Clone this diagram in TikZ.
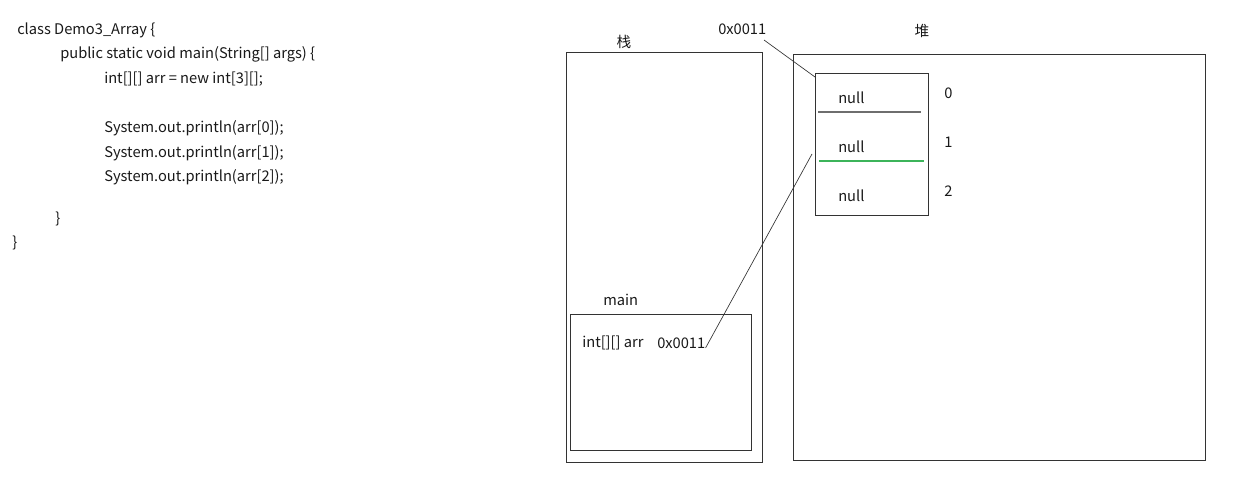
\documentclass[tikz,border=0pt]{standalone}
\usepackage{fontspec}
\setmainfont{Noto Sans CJK SC}
\usepackage{tikz}
\usetikzlibrary{positioning}
\definecolor{framegray}{RGB}{51,51,51}
\definecolor{sepgray}{RGB}{110,110,110}
\definecolor{sepgreen}{RGB}{60,180,90}

\begin{document}
\begin{tikzpicture}[x=0.75pt, y=-0.75pt,
  txt/.style={font=\fontsize{11pt}{13pt}\selectfont, inner sep=0pt, anchor=west, text=black!90},
  frame/.style={draw=framegray, line width=0.75pt},
  link/.style={draw=framegray, line width=0.5pt}]
\useasboundingbox (0,0) rectangle (1240,493);

%% === Left: source code ===
\node[txt] (l1) at (17,30)  {class Demo3\_Array \{};
\node[txt] (l2) at (60,54)  {public static void main(String[] args) \{};
\node[txt] (l3) at (104,79) {int[][] arr = new int[3][];};
\node[txt] (l4) at (104,128) {System.out.println(arr[0]);};
\node[txt] (l5) at (104,153) {System.out.println(arr[1]);};
\node[txt] (l6) at (104,177) {System.out.println(arr[2]);};
\node[txt] (l7) at (55,219)  {\}};
\node[txt] (l8) at (12,243)  {\}};

%% === Stack ===
\draw[frame] (566,52) rectangle (762,462);
\node[txt, anchor=center] (stacklbl) at (624,42) {栈};
% main frame
\draw[frame] (570,314) rectangle (751,450);
\node[txt] (mainlbl) at (603,300) {main};
\node[txt] (var) at (582,343) {int[][] arr};
\node[txt] (ptr) at (657,343) {0x0011};

%% === Heap ===
\draw[frame] (793,54) rectangle (1205,460);
\node[txt, anchor=center] (heaplbl) at (922,31) {堆};
\node[txt] (addr) at (718,29) {0x0011};
% array object
\draw[frame] (815,73) rectangle (928,215);
\coordinate (addrend) at (764,40);
\coordinate (arrtop) at (815,77);
\coordinate (arrmid) at (812,154);
\draw[sepgray, line width=1.1pt] (818,112) -- (921,112);
\draw[sepgreen, line width=0.8pt] (819,161) -- (924,161);
\foreach \i/\y in {0/98, 1/147, 2/196} {
  \node[txt] (null\i) at (838,\y) {null};
  \node[txt] (idx\i) at (944,\y-5) {\i};
}

%% === References ===
\draw[link] (addrend) -- (arrtop);
\draw[link] (ptr.east) ++(0,5) -- (arrmid);

\end{tikzpicture}
\end{document}
